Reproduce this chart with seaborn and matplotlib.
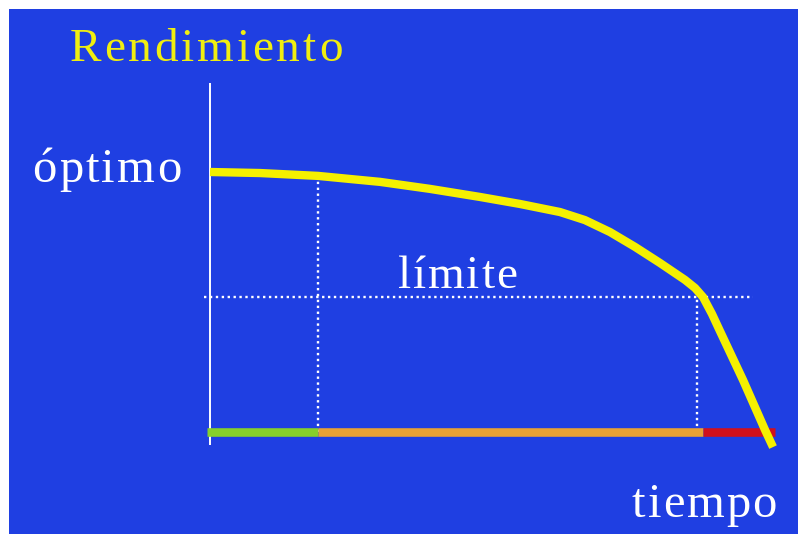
import matplotlib
matplotlib.use("Agg")
import matplotlib.pyplot as plt
import matplotlib.transforms as mtransforms
import seaborn as sns
import pandas as pd

# ---- data (time in % of life, performance in % of optimum) ----
time = [0, 8.93, 19.29, 30.36, 39.29, 48.21, 55.36, 62.5, 66.96, 71.43,
        75.89, 80.36, 84.82, 86.61, 88.04, 89.64, 91.07, 95.18, 99.11, 100.54]
performance = [100, 99.6, 98.5, 96.2, 93.5, 90.4, 87.7, 84.6, 81.5, 76.9,
               71.2, 65.0, 58.5, 55.4, 51.9, 45.4, 38.8, 20.0, 0.8, -5.8]

limit_level = 51.9          # "límite"
knee_time = 19.3            # end of the optimal phase
limit_time = 87.0           # time when performance reaches the limit
phase_edges = [-0.5, 19.3, 88.0, 100.9]
phase_colors = ["#86d02c", "#e8a236", "#d0101e"]

labels = {"y": "Rendimiento", "opt": "óptimo", "lim": "límite", "x": "tiempo"}

BLUE = "#1f3fe2"

sns.set_theme(style="white")
plt.rcParams["font.family"] = ["Liberation Serif", "DejaVu Serif"]

fig = plt.figure(figsize=(7.98, 5.34), dpi=100, facecolor="white")
bg = fig.add_axes([9 / 798, 0, 1 - 9 / 798, 1 - 9 / 534])
bg.set_facecolor(BLUE)
bg.set_xticks([]); bg.set_yticks([])
for s in bg.spines.values():
    s.set_visible(False)

ax = fig.add_axes([0, 0, 1, 1])
ax.patch.set_alpha(0)

# vertical axis
ax.plot([0, 0], [-5, 134.2], color="white", lw=1.4, solid_capstyle="butt")

# dotted guides
dot = dict(color="white", lw=1.7, linestyle=(0, (1, 1.5)))
ax.plot([-1, 97], [limit_level, limit_level], **dot)
ax.plot([knee_time, knee_time], [0, 98.5], **dot)
ax.plot([limit_time, limit_time], [0, limit_level], **dot)

# coloured phase bar along time axis
for i, c in enumerate(phase_colors):
    ax.plot([phase_edges[i], phase_edges[i + 1]], [0, 0], color=c, lw=6.2,
            solid_capstyle="butt")

# performance curve
df = pd.DataFrame({"time": time, "performance": performance})
sns.lineplot(data=df, x="time", y="performance", ax=ax, color="#f5f000",
             lw=6, sort=False, solid_capstyle="butt", solid_joinstyle="round")
ax.set_xlim(-37.5, 105.0)
ax.set_ylim(-39.23, 166.15)
ax.axis("off")

renderer = fig.canvas.get_renderer()


def tracked_text(x, y, s, width_px, **kw):
    """Centered text with letter spacing chosen so total width = width_px."""
    widths = []
    for ch in s:
        t = ax.text(0, 0, ch, **kw)
        widths.append(t.get_window_extent(renderer).width)
        t.remove()
    gap = (width_px - sum(widths)) / max(len(s) - 1, 1)
    cursor = -width_px / 2.0
    for ch, w in zip(s, widths):
        tr = mtransforms.offset_copy(ax.transData, fig=fig,
                                     x=cursor * 72 / fig.dpi, y=0,
                                     units="points")
        ax.text(x, y, ch, transform=tr, ha="left", va="baseline", **kw)
        cursor += w + gap


tracked_text(-0.7, 142.6, labels["y"], 273, color="#f0ee10", fontsize=34)
tracked_text(-18.4, 96.2, labels["opt"], 149, color="white", fontsize=35)
tracked_text(44.2, 55.4, labels["lim"], 119, color="white", fontsize=34)
tracked_text(88.3, -32.7, labels["x"], 145, color="white", fontsize=35)

fig.savefig("out.png", dpi=100, facecolor="white")
